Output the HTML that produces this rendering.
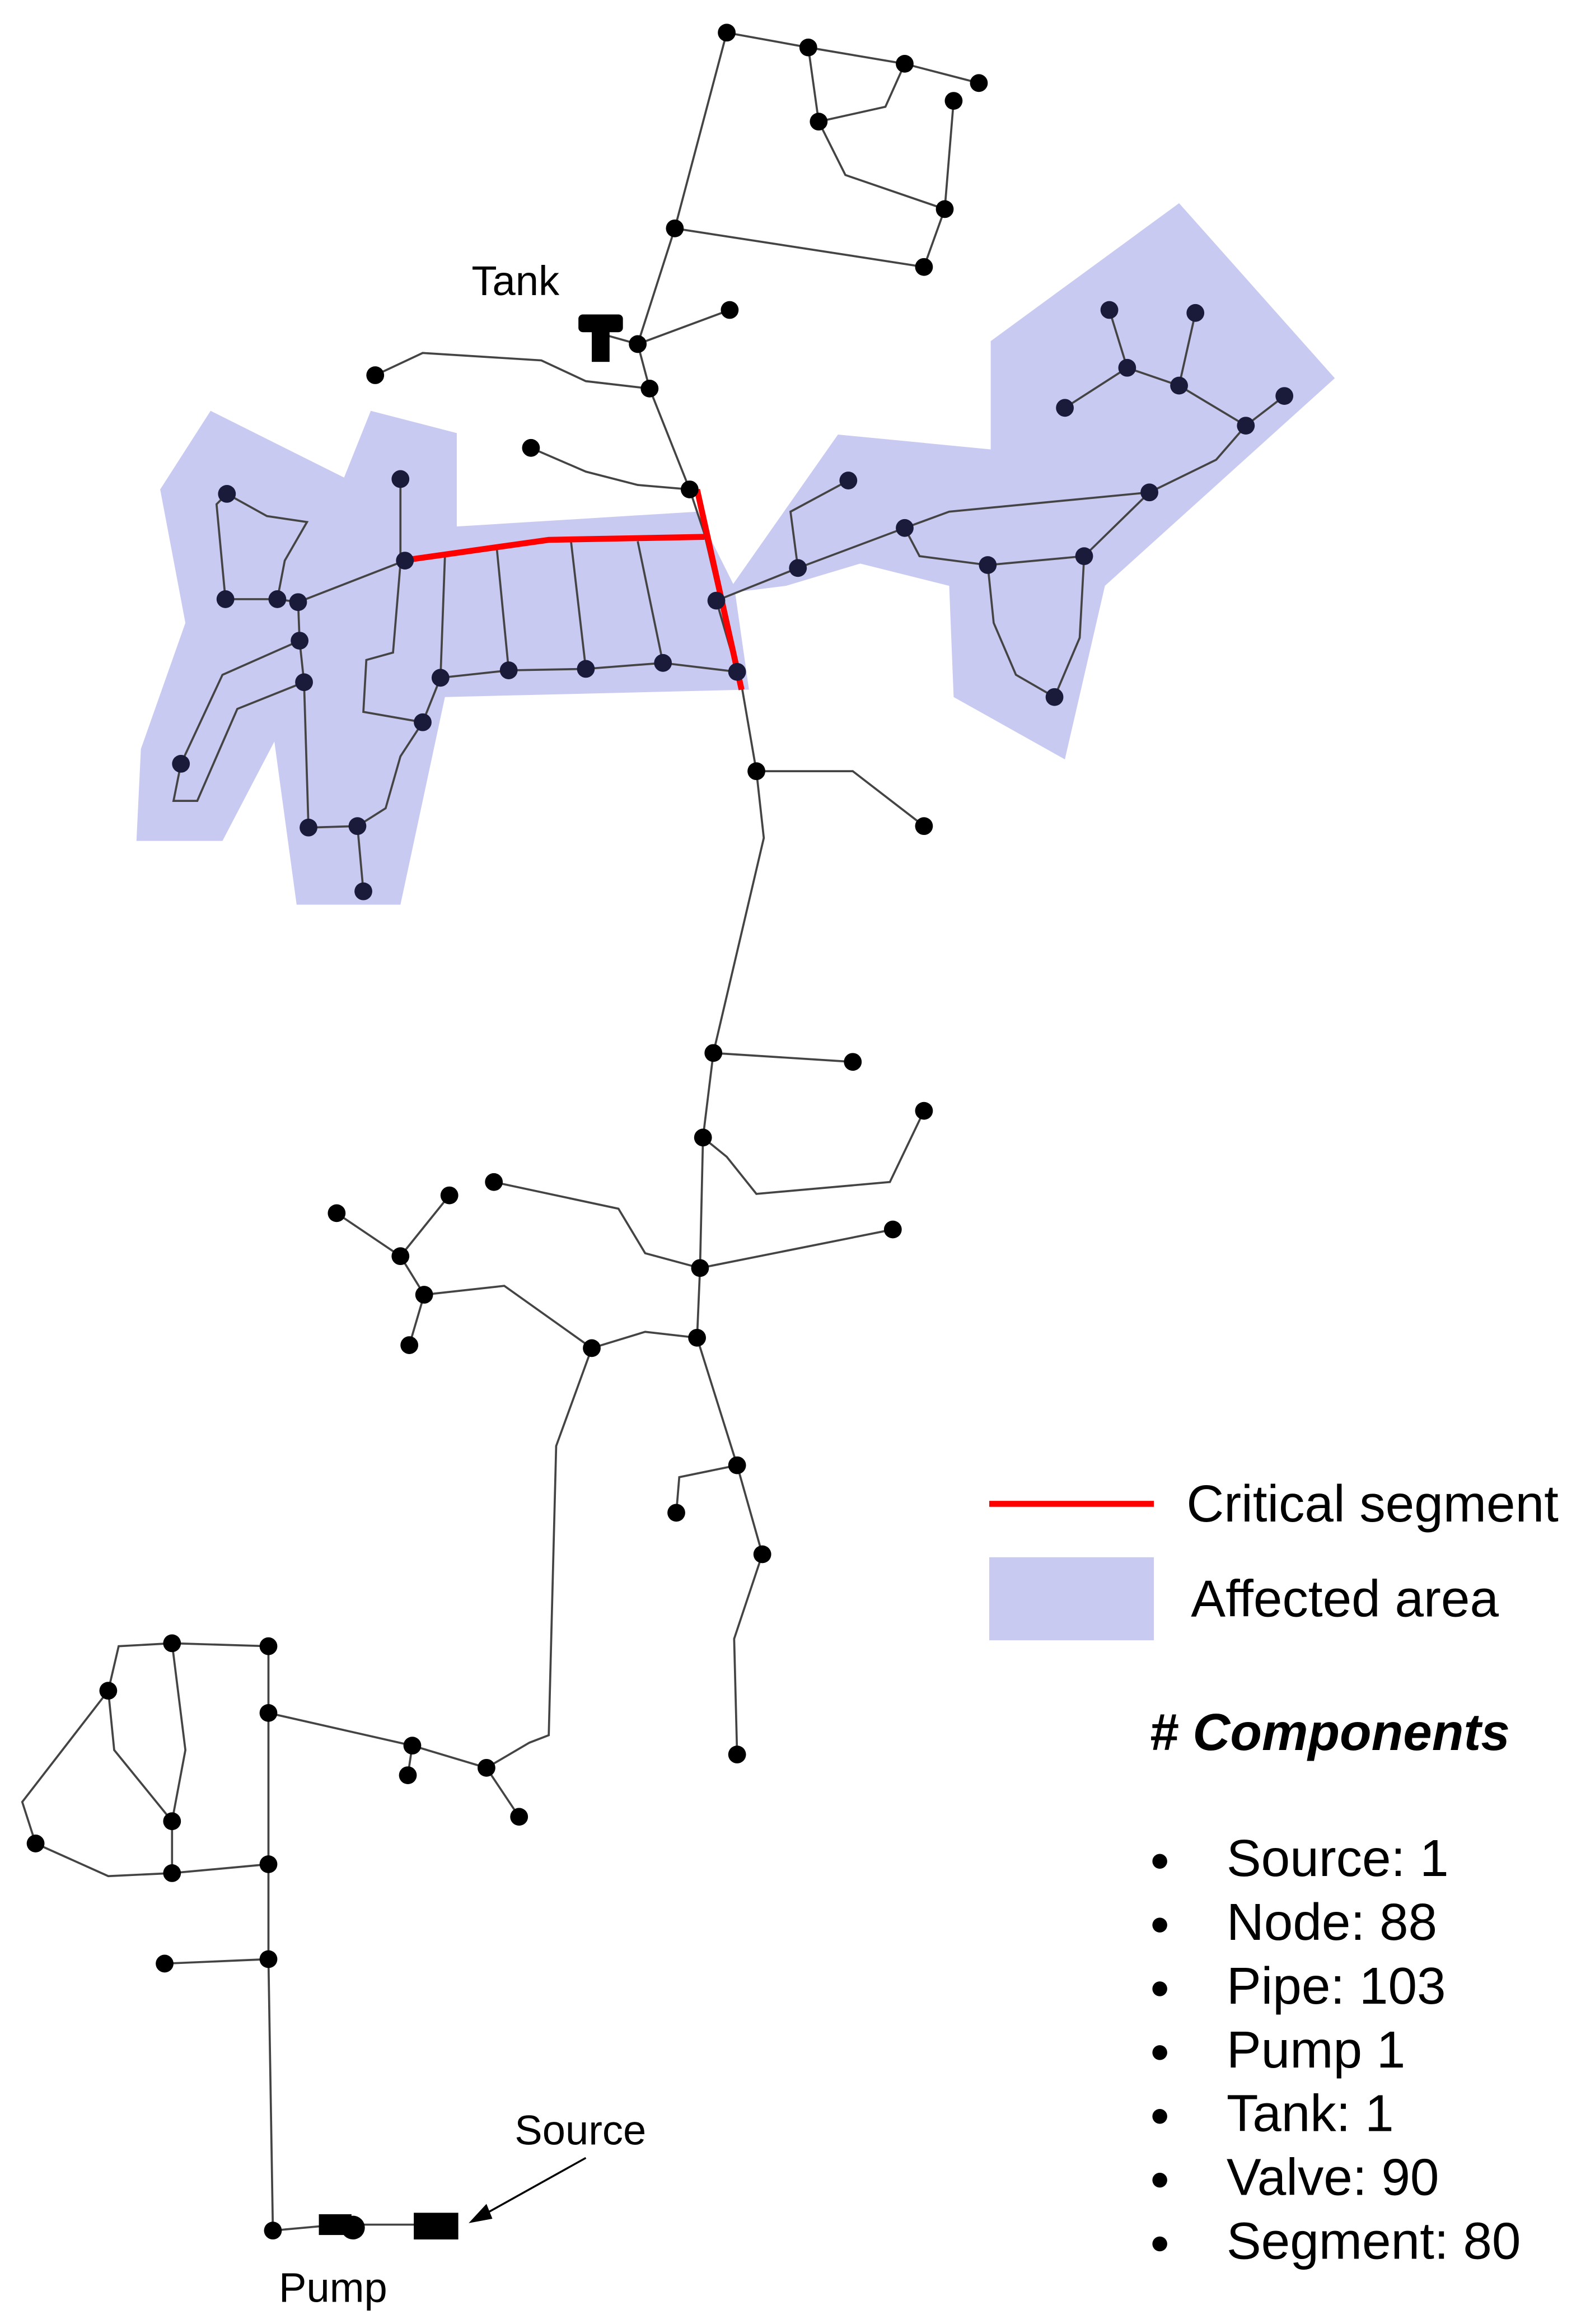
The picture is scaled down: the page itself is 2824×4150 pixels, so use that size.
<!DOCTYPE html>
<html><head><meta charset="utf-8"><style>html,body{margin:0;padding:0;background:#fff}svg{display:block}</style></head>
<body>
<svg width="2824" height="4150" viewBox="0 0 1066 1567" preserveAspectRatio="none" xmlns="http://www.w3.org/2000/svg" font-family="Liberation Sans, Arial, sans-serif">
<g fill="#c9caf2" stroke="none">
<polygon points="108,330 142,277 232,322 250,277 308,292 308,355 470,345 495,395 505,465 300,470 270,610 200,610 185,500 150,567 92,567 95,505 125,420"/>
<polygon points="490,400 565,293 668,303 668,230 795,137 900,255 745,395 718,512 643,470 640,395 580,380 530,395"/>
</g>
<g fill="none" stroke="#444" stroke-width="1.4">
<polyline points="490,22 545,32 610,43 660,56"/>
<polyline points="545,32 552,82 570,118 637,141 643,68"/>
<polyline points="552,82 597,72 610,43"/>
<polyline points="637,141 623,180 455,154 490,22"/>
<polyline points="455,154 430,232 438,262 465,330 475,360 485,403 500,462 510,520 515,565 481,710 474,767 472,855 470,902 497,988 514,1048 495,1105 497,1183"/>
<polyline points="405,225 430,232 492,209"/>
<polyline points="438,262 395,257 365,243 285,238 253,253"/>
<polyline points="358,302 395,318 430,327 465,330"/>
<polyline points="510,520 575,520 623,557"/>
<polyline points="481,710 575,716"/>
<polyline points="474,767 490,780 510,805 600,797 623,749"/>
<polyline points="472,855 602,829"/>
<polyline points="472,855 435,845 417,815 333,797"/>
<polyline points="470,902 435,898 399,909 375,975 370,1170 357,1175 328,1192"/>
<polyline points="497,988 458,996 456,1020"/>
<polyline points="399,909 340,867 286,873 270,847 227,818"/>
<polyline points="286,873 276,907"/><polyline points="270,847 303,806"/>
<polyline points="181,1155 278,1177 328,1192 350,1225"/><polyline points="278,1177 275,1197"/>
<polyline points="116,1108 181,1110 181,1155 181,1257 181,1321 184,1504 228,1500 293,1500"/>
<polyline points="116,1108 80,1110 73,1140 77,1180 116,1228"/>
<polyline points="116,1108 125,1180 116,1228 116,1263 181,1257"/>
<polyline points="73,1140 15,1215 24,1243 73,1265 116,1263"/>
<polyline points="111,1324 181,1321"/>
<polyline points="153,333 146,340 152,404 187,404 201,406 273,378"/>
<polyline points="153,333 180,348 207,352 192,378 187,404"/>
<polyline points="270,323 270,380 265,440 247,445 245,480 285,487 297,457 343,452 395,451 447,447 497,453 483,405"/>
<polyline points="201,406 202,432 205,460 208,558 241,557 245,601"/>
<polyline points="285,487 270,510 260,545 241,557"/>
<polyline points="297,457 300,375"/><polyline points="343,452 335,370"/><polyline points="395,451 385,365"/><polyline points="447,447 430,365"/>
<polyline points="202,432 150,455 122,515 117,540 133,540 160,478 205,460"/>
<polyline points="483,405 538,383 610,356 640,345 775,332 820,310 840,287 866,267"/>
<polyline points="538,383 533,345 572,324"/>
<polyline points="610,356 620,375 666,381 731,375 775,332"/>
<polyline points="666,381 670,420 685,455 711,470 728,430 731,375"/>
<polyline points="840,287 795,260 760,248 718,275"/>
<polyline points="760,248 748,209"/><polyline points="795,260 806,211"/>
</g>
<g stroke="#f00" stroke-width="4" fill="none">
<polyline points="271,378 370,364 475,362"/>
<polyline points="470,330 500,465"/>
</g>
<g fill="#000">
<circle cx="490" cy="22" r="6"/><circle cx="545" cy="32" r="6"/><circle cx="610" cy="43" r="6"/><circle cx="660" cy="56" r="6"/><circle cx="643" cy="68" r="6"/><circle cx="552" cy="82" r="6"/><circle cx="637" cy="141" r="6"/><circle cx="455" cy="154" r="6"/><circle cx="623" cy="180" r="6"/>
<circle cx="430" cy="232" r="6"/><circle cx="492" cy="209" r="6"/><circle cx="438" cy="262" r="6"/><circle cx="253" cy="253" r="6"/><circle cx="358" cy="302" r="6"/><circle cx="465" cy="330" r="6"/>
<circle cx="510" cy="520" r="6"/><circle cx="623" cy="557" r="6"/><circle cx="481" cy="710" r="6"/><circle cx="575" cy="716" r="6"/><circle cx="474" cy="767" r="6"/><circle cx="623" cy="749" r="6"/><circle cx="472" cy="855" r="6"/><circle cx="602" cy="829" r="6"/><circle cx="333" cy="797" r="6"/><circle cx="470" cy="902" r="6"/><circle cx="399" cy="909" r="6"/><circle cx="497" cy="988" r="6"/><circle cx="456" cy="1020" r="6"/><circle cx="514" cy="1048" r="6"/><circle cx="497" cy="1183" r="6"/>
<circle cx="286" cy="873" r="6"/><circle cx="276" cy="907" r="6"/><circle cx="270" cy="847" r="6"/><circle cx="227" cy="818" r="6"/><circle cx="303" cy="806" r="6"/>
<circle cx="181" cy="1155" r="6"/><circle cx="278" cy="1177" r="6"/><circle cx="275" cy="1197" r="6"/><circle cx="328" cy="1192" r="6"/><circle cx="350" cy="1225" r="6"/>
<circle cx="116" cy="1108" r="6"/><circle cx="181" cy="1110" r="6"/><circle cx="73" cy="1140" r="6"/><circle cx="116" cy="1228" r="6"/><circle cx="24" cy="1243" r="6"/><circle cx="116" cy="1263" r="6"/><circle cx="181" cy="1257" r="6"/><circle cx="181" cy="1321" r="6"/><circle cx="111" cy="1324" r="6"/><circle cx="184" cy="1504" r="6"/>
</g>
<g fill="#1a1a3a">
<circle cx="153" cy="333" r="6"/><circle cx="152" cy="404" r="6"/><circle cx="187" cy="404" r="6"/><circle cx="201" cy="406" r="6"/><circle cx="270" cy="323" r="6"/><circle cx="273" cy="378" r="6"/><circle cx="202" cy="432" r="6"/><circle cx="205" cy="460" r="6"/><circle cx="122" cy="515" r="6"/><circle cx="297" cy="457" r="6"/><circle cx="285" cy="487" r="6"/><circle cx="208" cy="558" r="6"/><circle cx="241" cy="557" r="6"/><circle cx="245" cy="601" r="6"/><circle cx="343" cy="452" r="6"/><circle cx="395" cy="451" r="6"/><circle cx="447" cy="447" r="6"/><circle cx="497" cy="453" r="6"/><circle cx="483" cy="405" r="6"/>
<circle cx="538" cy="383" r="6"/><circle cx="572" cy="324" r="6"/><circle cx="610" cy="356" r="6"/><circle cx="666" cy="381" r="6"/><circle cx="731" cy="375" r="6"/><circle cx="775" cy="332" r="6"/><circle cx="711" cy="470" r="6"/><circle cx="840" cy="287" r="6"/><circle cx="866" cy="267" r="6"/><circle cx="795" cy="260" r="6"/><circle cx="760" cy="248" r="6"/><circle cx="718" cy="275" r="6"/><circle cx="748" cy="209" r="6"/><circle cx="806" cy="211" r="6"/>
</g>
<rect x="390" y="212" width="30" height="12" rx="3" fill="#000"/><rect x="399" y="222" width="12" height="22" fill="#000"/>
<rect x="215" y="1493" width="22" height="14" fill="#000"/><circle cx="238" cy="1502" r="8" fill="#000"/>
<rect x="279" y="1492" width="30" height="18" fill="#000"/>
<line x1="395" y1="1455" x2="325" y2="1494" stroke="#000" stroke-width="1.3"/>
<polygon points="316,1499 328,1486 332,1496" fill="#000"/>
<g font-size="28" fill="#000">
<text x="318" y="199">Tank</text>
<text x="347" y="1446">Source</text>
<text x="188" y="1552">Pump</text>
</g>
<line x1="667" y1="1014" x2="778" y2="1014" stroke="#f00" stroke-width="4"/>
<rect x="667" y="1050" width="111" height="56" fill="#c9caf2"/>
<g font-size="35" fill="#000">
<text x="800" y="1026">Critical segment</text>
<text x="803" y="1090">Affected area</text>
<text x="775" y="1180" font-weight="bold" font-style="italic"># Components</text>
<text x="827" y="1265">Source: 1</text>
<text x="827" y="1308">Node: 88</text>
<text x="827" y="1351">Pipe: 103</text>
<text x="827" y="1394">Pump 1</text>
<text x="827" y="1437">Tank: 1</text>
<text x="827" y="1480">Valve: 90</text>
<text x="827" y="1523">Segment: 80</text>
</g>
<g fill="#000">
<circle cx="782" cy="1255" r="5"/><circle cx="782" cy="1298" r="5"/><circle cx="782" cy="1341" r="5"/><circle cx="782" cy="1384" r="5"/><circle cx="782" cy="1427" r="5"/><circle cx="782" cy="1470" r="5"/><circle cx="782" cy="1513" r="5"/>
</g>
</svg>
</body></html>
